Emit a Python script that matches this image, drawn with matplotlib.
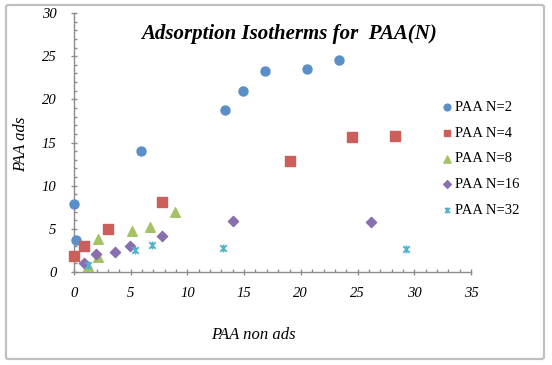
import numpy as np
import matplotlib.pyplot as plt
from matplotlib.path import Path
from matplotlib.patches import FancyBboxPatch
from matplotlib.ticker import MultipleLocator

# adsorption isotherm data (x = PAA non ads, y = PAA ads)
n2_x = [0.0, 0.2, 5.9, 13.3, 14.9, 16.8, 20.5, 23.4]
n2_y = [7.9, 3.7, 14.0, 18.8, 21.0, 23.3, 23.5, 24.6]
n4_x = [0.0, 0.9, 3.0, 7.8, 19.0, 24.5, 28.3]
n4_y = [1.9, 3.05, 5.0, 8.1, 12.9, 15.6, 15.7]
n8_x = [1.2, 2.1, 2.1, 5.1, 6.7, 8.9]
n8_y = [0.66, 1.7, 3.8, 4.8, 5.2, 6.9]
n16_x = [0.9, 1.9, 3.6, 4.9, 7.75, 14.0, 26.2]
n16_y = [1.1, 2.05, 2.3, 3.05, 4.2, 5.95, 5.8]
n32_x = [1.24, 5.4, 6.9, 13.1, 29.3]
n32_y = [0.78, 2.6, 3.1, 2.8, 2.7]

labels = ['PAA N=2', 'PAA N=4', 'PAA N=8', 'PAA N=16', 'PAA N=32']
colors = ['#5b8fc8', '#cd5f5b', '#a5c264', '#8a6fae', '#4fb3cd']

# x with vertical bar (excel "star" marker)
star = Path([(-1, -1), (1, 1), (-1, 1), (1, -1), (0, -1.2), (0, 1.2)],
            [Path.MOVETO, Path.LINETO, Path.MOVETO, Path.LINETO, Path.MOVETO, Path.LINETO])

serif = ['Liberation Serif', 'DejaVu Serif']

fig = plt.figure(figsize=(5.52, 3.65), dpi=100)
# outer chart border
fig.patches.append(FancyBboxPatch((6 / 552, 1 - 359 / 365), 538 / 552, 354 / 365,
                                  boxstyle='round,pad=0,rounding_size=0.005',
                                  transform=fig.transFigure, fill=False,
                                  edgecolor='#c0c0c0', linewidth=1.6))

ax = fig.add_axes([74 / 552, 1 - 272 / 365, 397 / 552, 259 / 365])

ax.scatter(n2_x, n2_y, s=42, marker='o', color=colors[0], label=labels[0], zorder=3, clip_on=False)
ax.scatter(n4_x, n4_y, s=42, marker='s', color=colors[1], label=labels[1], zorder=3, clip_on=False)
ax.scatter(n8_x, n8_y, s=48, marker='^', color=colors[2], label=labels[2], zorder=3, clip_on=False)
ax.scatter(n16_x, n16_y, s=27, marker='D', color=colors[3], label=labels[3], zorder=3, clip_on=False)
ax.scatter(n32_x, n32_y, s=32, marker=star, color=colors[4], linewidths=1.3,
           label=labels[4], zorder=3, clip_on=False)

ax.set_xlim(0, 35)
ax.set_ylim(0, 30)
ax.xaxis.set_major_locator(MultipleLocator(5))
ax.xaxis.set_minor_locator(MultipleLocator(1))
ax.yaxis.set_major_locator(MultipleLocator(5))
ax.yaxis.set_minor_locator(MultipleLocator(1))
for side in ['top', 'right']:
    ax.spines[side].set_visible(False)
for side in ['left', 'bottom']:
    ax.spines[side].set_color('#8c8c8c')
    ax.spines[side].set_linewidth(1.0)
ax.tick_params(which='major', direction='inout', length=5, width=1, color='#8c8c8c')
ax.tick_params(which='minor', direction='in', length=2.5, width=1, color='#8c8c8c')
ax.tick_params(axis='y', which='major', pad=10)
ax.tick_params(axis='x', which='major', pad=8)
for lab in ax.get_xticklabels() + ax.get_yticklabels():
    lab.set_fontfamily(serif)
    lab.set_fontstyle('italic')
    lab.set_fontsize(10.5)
ax.patch.set_visible(False)

fig.text(289 / 552, 1 - 39 / 365, 'Adsorption Isotherms for  PAA(N)', ha='center',
         va='baseline', family=serif, style='italic', weight='bold', fontsize=15)
fig.text(253 / 552, 1 - 335 / 365, 'PAA non ads', ha='center', va='center',
         family=serif, style='italic', fontsize=12)
fig.text(21 / 552, 1 - 144 / 365, 'PAA ads', ha='center', va='center', rotation=90,
         family=serif, style='italic', fontsize=12)

leg = fig.legend(loc='upper left', bbox_to_anchor=(443 / 552, 1 - 101 / 365),
                 frameon=False, prop={'family': serif, 'size': 10.5},
                 handlelength=0.6, handletextpad=0.2, labelspacing=0.85,
                 markerscale=0.75, borderpad=0, borderaxespad=0)

fig.savefig('out.png', dpi=100)
